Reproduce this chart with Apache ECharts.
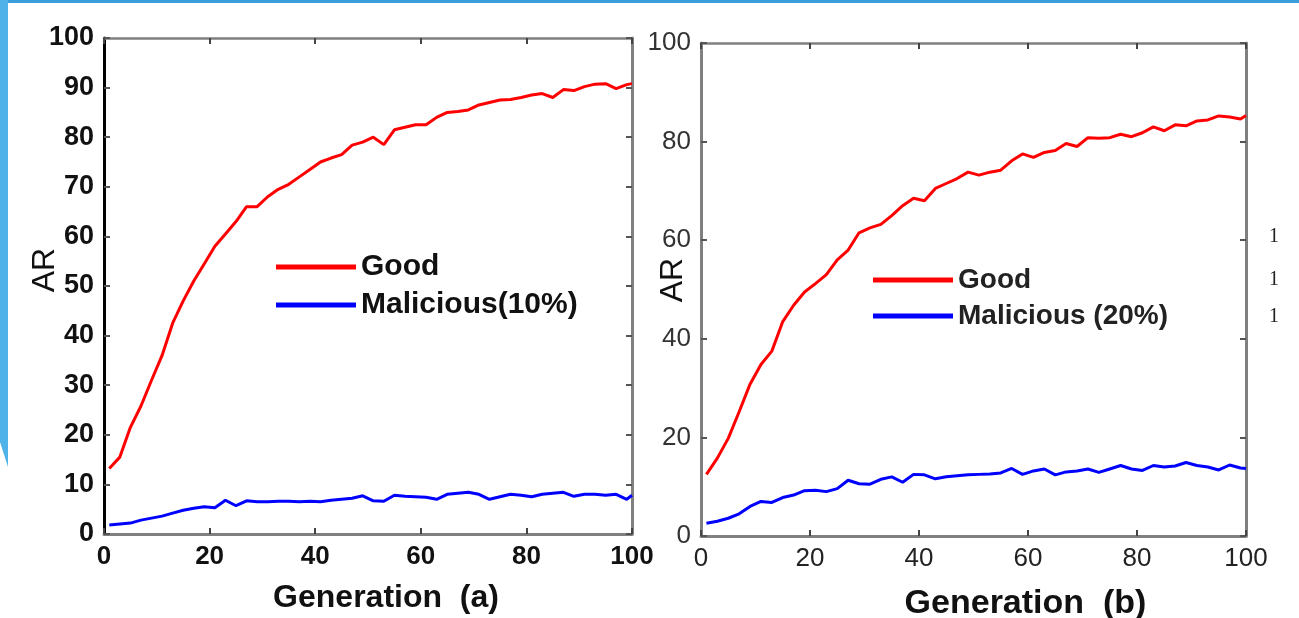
<!DOCTYPE html>
<html>
<head>
<meta charset="utf-8">
<script src="https://cdn.jsdelivr.net/npm/echarts@6/dist/echarts.min.js"></script>
<style>
html,body{margin:0;padding:0;background:#fff;}
#chart{width:1299px;height:618px;}
</style>
</head>
<body>
<div id="chart"></div>
<script>
// ---- data ----
const generations = [1,3,5,7,9,11,13,15,17,19,21,23,25,27,29,31,33,35,37,39,41,43,45,47,49,51,53,55,57,59,61,63,65,67,69,71,73,75,77,79,81,83,85,87,89,91,93,95,97,99,100];
const goodA = [13.2,15.5,21.5,25.8,31,36,42.5,47,51,54.5,58,60.5,63,66,66,68,69.5,70.5,72,73.5,75,75.8,76.5,78.4,79,80,78.5,81.5,82,82.5,82.5,84,85,85.2,85.5,86.5,87,87.5,87.6,88,88.5,88.8,88,89.6,89.4,90.2,90.7,90.8,89.8,90.6,90.8];
const maliciousA = [1.8,2.0,2.2,2.8,3.2,3.6,4.2,4.8,5.2,5.5,5.3,6.8,5.7,6.7,6.5,6.5,6.6,6.6,6.5,6.6,6.5,6.8,7.0,7.2,7.7,6.7,6.6,7.8,7.6,7.5,7.4,7.0,8.0,8.2,8.4,8.0,7.0,7.5,8.0,7.8,7.5,8.0,8.2,8.4,7.6,8.0,8.0,7.8,8.0,7.0,7.8];
const goodB = [12.5,15.8,19.8,25.2,30.8,34.8,37.5,43.5,46.8,49.5,51.2,53,56,58,61.5,62.5,63.2,65,67,68.5,68,70.5,71.5,72.5,73.8,73.2,73.8,74.2,76.1,77.5,76.8,77.8,78.2,79.6,79,80.8,80.7,80.8,81.5,81,81.8,83,82.2,83.4,83.2,84.2,84.4,85.2,85,84.6,85.3];
const maliciousB = [2.6,3.0,3.6,4.5,6.0,7.0,6.8,7.8,8.3,9.2,9.3,9.0,9.6,11.3,10.6,10.5,11.5,12.0,10.9,12.5,12.4,11.6,12.0,12.2,12.4,12.5,12.6,12.8,13.7,12.5,13.2,13.6,12.4,13.0,13.2,13.6,12.9,13.6,14.3,13.6,13.3,14.3,14.0,14.2,14.9,14.3,14.0,13.4,14.4,13.8,13.7];
const seriesNamesA = ['Good','Malicious(10%)'];
const seriesNamesB = ['Good','Malicious (20%)'];
const xTitleA = 'Generation  (a)';
const xTitleB = 'Generation  (b)';
const yTitle = 'AR';
// ---------------

const pairs = (xs, ys) => xs.map((x, i) => [x, ys[i]]);
const FF = '"Liberation Sans", Arial, sans-serif';
const GRAY = '#808080';

function xAx(grid, pos, mirror, bold, title, nameGap, shift, nameSize) {
  return {
    type: 'value', gridIndex: grid, position: pos, min: 0, max: 100, interval: 20,
    axisLine: { show: true, onZero: false, lineStyle: { color: GRAY, width: pos === 'top' ? 2.5 : 3 } },
    axisTick: { show: true, inside: true, length: 6, lineStyle: { color: '#444', width: 2 } },
    axisLabel: { show: !mirror, margin: 10, fontSize: 26, fontFamily: FF, fontWeight: bold ? 'bold' : 'normal', color: bold ? '#111' : '#222' },
    splitLine: { show: false },
    name: mirror ? '' : title, nameLocation: 'middle', nameGap: nameGap,
    nameTextStyle: { fontSize: nameSize || 32, fontFamily: FF, fontWeight: 'bold', color: '#111', padding: [0, 0, 0, shift || 0] }
  };
}
function yAx(grid, pos, mirror, interval, bold, lineColor) {
  return {
    type: 'value', gridIndex: grid, position: pos, min: 0, max: 100, interval: interval,
    axisLine: { show: true, onZero: false, lineStyle: { color: lineColor, width: 3 } },
    axisTick: { show: true, inside: true, length: 6, lineStyle: { color: '#555', width: 2 } },
    axisLabel: { show: !mirror, margin: 10, fontSize: bold ? 27 : 26, fontFamily: FF, fontWeight: bold ? 'bold' : 'normal', color: bold ? '#111' : '#333' },
    splitLine: { show: false }
  };
}
function line(name, xi, yi, data, color) {
  return { name: name, type: 'line', xAxisIndex: xi, yAxisIndex: yi, data: data, symbol: 'none',
    lineStyle: { color: color, width: 3 }, itemStyle: { color: color }, animation: false };
}
function vText(x, y, size) {
  return { type: 'text', x: x, y: y, rotation: Math.PI / 2, silent: true,
    style: { text: yTitle, font: size + 'px "Liberation Sans", Arial, sans-serif', fill: '#111', align: 'center', verticalAlign: 'middle' } };
}
function stray(y) {
  return { type: 'text', x: 1274, y: y, silent: true,
    style: { text: '1', font: '20px "Liberation Serif", serif', fill: '#222', align: 'center', verticalAlign: 'middle' } };
}

const chart = echarts.init(document.getElementById('chart'), null, { renderer: 'canvas' });
chart.setOption({
  backgroundColor: '#ffffff',
  animation: false,
  grid: [
    { left: 104, top: 38, right: 667, bottom: 84, outerBoundsMode: 'none', containLabel: false },
    { left: 701, top: 43, right: 53, bottom: 82, outerBoundsMode: 'none', containLabel: false }
  ],
  xAxis: [
    xAx(0, 'bottom', false, true, xTitleA, 48, 36, 32),
    xAx(0, 'top', true, true, '', 0),
    xAx(1, 'bottom', false, false, xTitleB, 51, 104, 34),
    xAx(1, 'top', true, false, '', 0)
  ],
  yAxis: [
    yAx(0, 'left', false, 10, true, '#000'),
    yAx(0, 'right', true, 10, true, GRAY),
    yAx(1, 'left', false, 20, false, GRAY),
    yAx(1, 'right', true, 20, false, GRAY)
  ],
  legend: [
    { data: seriesNamesA, orient: 'vertical', left: 276, top: 252, itemWidth: 80, itemHeight: 5, icon: 'rect', itemGap: 8, padding: 0,
      textStyle: { fontSize: 30, fontWeight: 'bold', fontFamily: FF, lineHeight: 30, color: '#111' } },
    { data: seriesNamesB, orient: 'vertical', left: 873, top: 266, itemWidth: 80, itemHeight: 5, icon: 'rect', itemGap: 8, padding: 0,
      textStyle: { fontSize: 28, fontWeight: 'bold', fontFamily: FF, lineHeight: 28, color: '#222' } }
  ],
  series: [
    line(seriesNamesA[0], 0, 0, pairs(generations, goodA), '#ff0000'),
    line(seriesNamesA[1], 0, 0, pairs(generations, maliciousA), '#0000ff'),
    line(seriesNamesB[0], 2, 2, pairs(generations, goodB), '#ff0000'),
    line(seriesNamesB[1], 2, 2, pairs(generations, maliciousB), '#0000ff')
  ],
  graphic: [
    { type: 'rect', shape: { x: 0, y: 0, width: 1299, height: 3 }, style: { fill: '#3a9ddc' }, silent: true },
    { type: 'polygon', shape: { points: [[0,0],[8,0],[8,467],[0,442]] }, style: { fill: '#4fb2e8' }, silent: true },
    vText(45, 270, 32),
    vText(673, 280, 32),
    stray(237), stray(280), stray(317)
  ]
});
</script>
</body>
</html>
